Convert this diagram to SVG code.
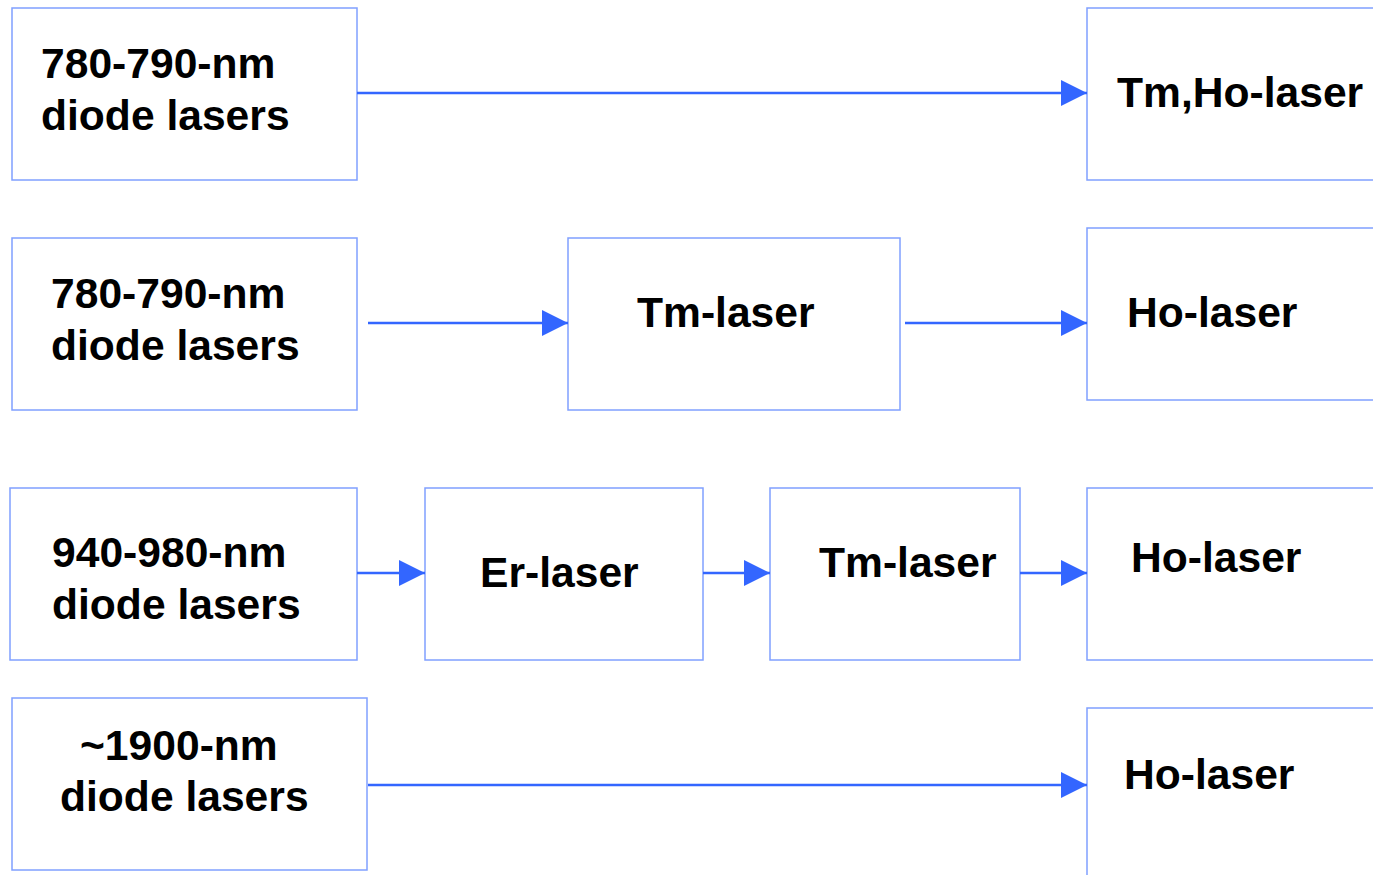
<svg xmlns="http://www.w3.org/2000/svg" width="1373" height="875" viewBox="0 0 1373 875">
<style>
.box{fill:#fff;stroke:#80a0ff;stroke-width:1.5}
.t{font-family:"Liberation Sans",Arial,sans-serif;font-weight:bold;font-size:42.6px;fill:#000}
.c{stroke:#3366ff;stroke-width:2.5;fill:none}
</style>
<defs>
<marker id="ah" markerUnits="userSpaceOnUse" markerWidth="26" markerHeight="26" refX="26" refY="13" orient="auto">
<path d="M0,0 L26,13 L0,26 Z" fill="#3366ff"/>
</marker>
</defs>
<rect width="1373" height="875" fill="#fff"/>
<g id="n1"><rect class="box" x="12" y="8" width="345" height="172"/><text class="t" x="41" y="78">780-790-nm</text><text class="t" x="41" y="130">diode lasers</text></g>
<g id="n2"><rect class="box" x="1087" y="8" width="300" height="172"/><text class="t" x="1117" y="107">Tm,Ho-laser</text></g>
<g id="n3"><rect class="box" x="12" y="238" width="345" height="172"/><text class="t" x="51" y="308">780-790-nm</text><text class="t" x="51" y="360">diode lasers</text></g>
<g id="n4"><rect class="box" x="568" y="238" width="332" height="172"/><text class="t" x="637" y="327">Tm-laser</text></g>
<g id="n5"><rect class="box" x="1087" y="228" width="300" height="172"/><text class="t" x="1127" y="327">Ho-laser</text></g>
<g id="n6"><rect class="box" x="10" y="488" width="347" height="172"/><text class="t" x="52" y="567">940-980-nm</text><text class="t" x="52" y="619">diode lasers</text></g>
<g id="n7"><rect class="box" x="425" y="488" width="278" height="172"/><text class="t" x="480" y="587">Er-laser</text></g>
<g id="n8"><rect class="box" x="770" y="488" width="250" height="172"/><text class="t" x="819" y="577">Tm-laser</text></g>
<g id="n9"><rect class="box" x="1087" y="488" width="300" height="172"/><text class="t" x="1131" y="572">Ho-laser</text></g>
<g id="n10"><rect class="box" x="12" y="698" width="355" height="172"/><text class="t" x="80" y="760">~1900-nm</text><text class="t" x="60" y="811">diode lasers</text></g>
<g id="n11"><rect class="box" x="1087" y="708" width="300" height="190"/><text class="t" x="1124" y="789">Ho-laser</text></g>
<g id="connectors">
<line class="c" x1="357" y1="93" x2="1087" y2="93" marker-end="url(#ah)"/>
<line class="c" x1="368" y1="323" x2="568" y2="323" marker-end="url(#ah)"/>
<line class="c" x1="905" y1="323" x2="1087" y2="323" marker-end="url(#ah)"/>
<line class="c" x1="357" y1="573" x2="425" y2="573" marker-end="url(#ah)"/>
<line class="c" x1="703" y1="573" x2="770" y2="573" marker-end="url(#ah)"/>
<line class="c" x1="1020" y1="573" x2="1087" y2="573" marker-end="url(#ah)"/>
<line class="c" x1="368" y1="785" x2="1087" y2="785" marker-end="url(#ah)"/>
</g>
</svg>
